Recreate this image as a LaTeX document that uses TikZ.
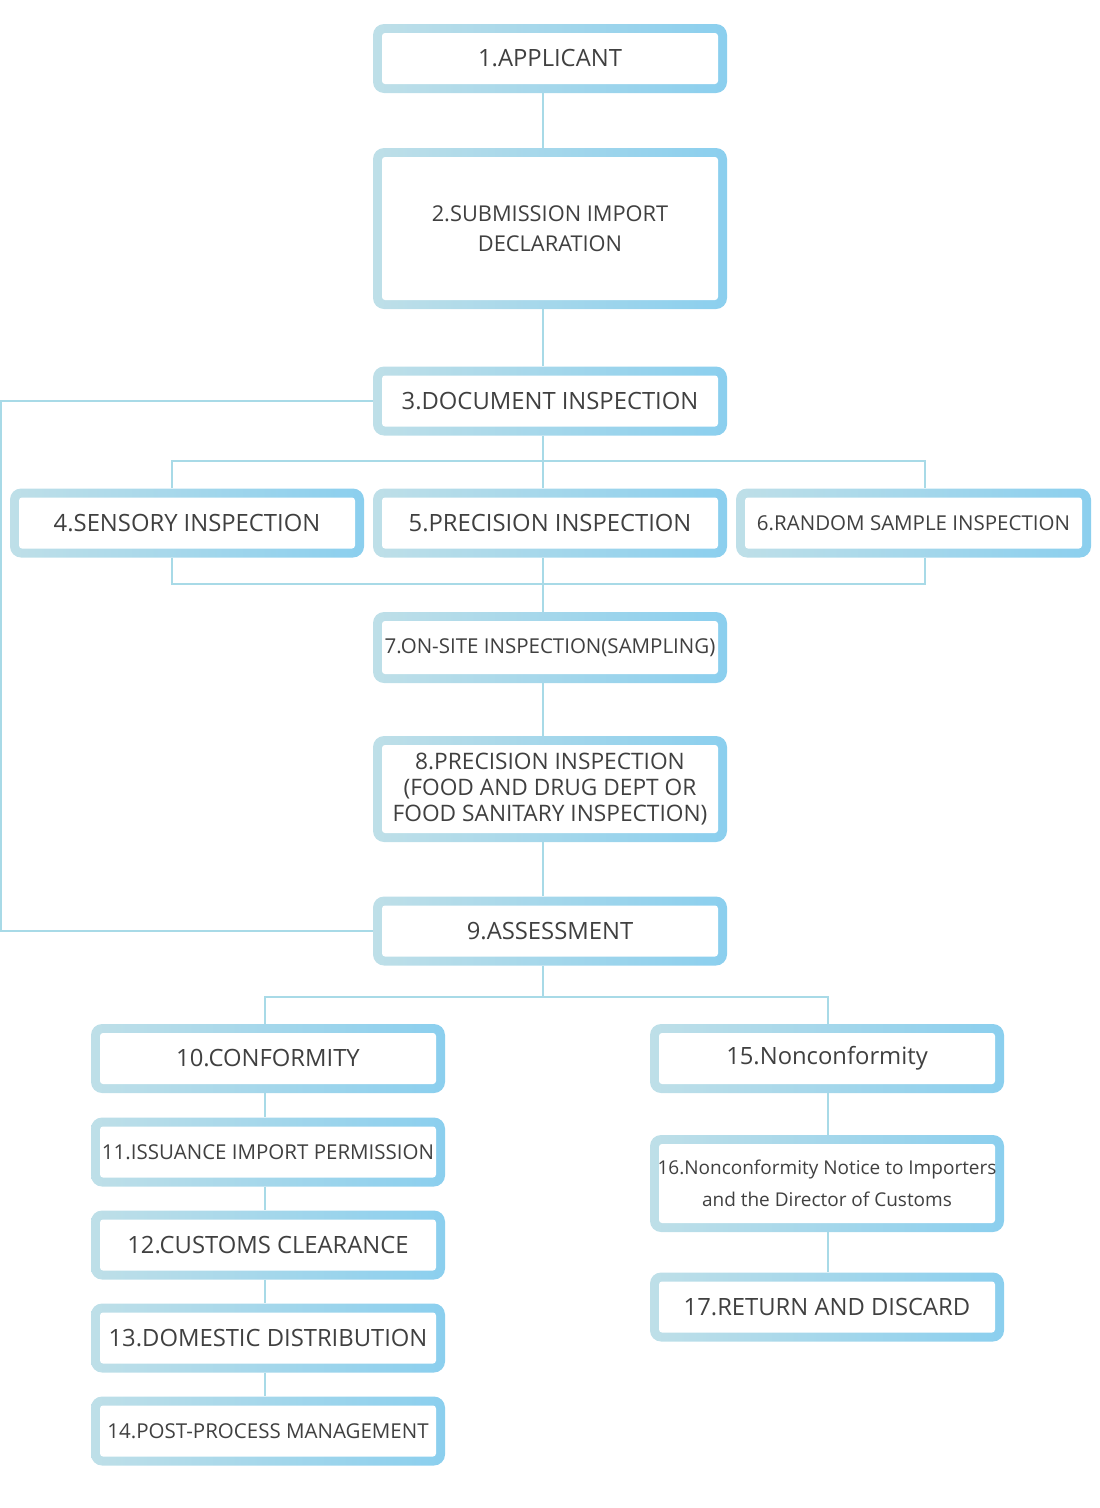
\documentclass[tikz,border=0pt]{standalone}
\usepackage{fontspec}
\setmainfont{Open Sans}
\definecolor{cL}{HTML}{BEDFE8}
\definecolor{cR}{HTML}{8BCFEE}
\definecolor{ln}{HTML}{A8DAE7}
\definecolor{txt}{HTML}{404040}
\tikzset{
  bx/.style={rounded corners=11pt, left color=cL, right color=cR, draw=none,
    minimum width=354pt, minimum height=69pt, inner sep=0pt, text=txt,
    font=\fontsize{23.8}{26}\selectfont, align=center,
    path picture={\fill[white, rounded corners=3pt]
      ([shift={(9pt,-9pt)}]path picture bounding box.north west) rectangle
      ([shift={(-9pt,9pt)}]path picture bounding box.south east);}},
  sm/.style={font=\fontsize{20.5}{23}\selectfont},
  conn/.style={draw=ln, line width=1.4pt},
}
\begin{document}
\begin{tikzpicture}[x=1pt,y=-1pt]
\useasboundingbox (0,0) rectangle (1100,1508);
% boxes
\node[bx] (b1) at (550,58.5) {1.APPLICANT};
\node[bx, minimum height=161pt, font=\fontsize{21.8}{30}\selectfont] (b2) at (550,228.5) {2.SUBMISSION IMPORT\\DECLARATION};
\node[bx] (b3) at (550,401) {3.DOCUMENT INSPECTION};
\node[bx] (b4) at (187,523) {4.SENSORY INSPECTION};
\node[bx] (b5) at (550,523) {5.PRECISION INSPECTION};
\node[bx, minimum width=355pt, sm] (b6) at (913.5,523) {6.RANDOM SAMPLE INSPECTION};
\node[bx, minimum height=71pt, sm] (b7) at (550,647.5) {7.ON-SITE INSPECTION(SAMPLING)};
\node[bx, minimum height=106pt, font=\fontsize{22.7}{26}\selectfont] (b8) at (550,789) {8.PRECISION INSPECTION\\(FOOD AND DRUG DEPT OR\\FOOD SANITARY INSPECTION)};
\node[bx] (b9) at (550,931) {9.ASSESSMENT};
\node[bx] (b10) at (268,1058.5) {10.CONFORMITY};
\node[bx, sm] (b11) at (268,1152) {11.ISSUANCE IMPORT PERMISSION};
\node[bx] (b12) at (268,1245) {12.CUSTOMS CLEARANCE};
\node[bx] (b13) at (268,1338) {13.DOMESTIC DISTRIBUTION};
\node[bx, sm] (b14) at (268,1431) {14.POST-PROCESS MANAGEMENT};
\node[bx] (b15) at (827,1058.5) {15.Nonconformity};
\node[bx, minimum height=97pt, font=\fontsize{19}{32}\selectfont] (b16) at (827,1183.5) {16.Nonconformity Notice to Importers\\and the Director of Customs};
\node[bx] (b17) at (827,1307) {17.RETURN AND DISCARD};
% helper coordinates
\coordinate (ax) at (543,0);
\coordinate (x4) at (172,461);
\coordinate (x6) at (925,461);
\coordinate (x4b) at (172,584);
\coordinate (x6b) at (925,584);
\coordinate (lp) at (1,0);
\coordinate (x10) at (265,997);
\coordinate (x15) at (828,997);
% connectors
\draw[conn] (b1.south -| ax) -- (b2.north -| ax);
\draw[conn] (b2.south -| ax) -- (b3.north -| ax);
\draw[conn] (b3.south -| ax) -- (b5.north -| ax);
\draw[conn] (x4 |- b4.north) -- (x4) -- (x6) -- (x6 |- b6.north);
\draw[conn] (x4b |- b4.south) -- (x4b) -- (x6b) -- (x6b |- b6.south);
\draw[conn] (b5.south -| ax) -- (b7.north -| ax);
\draw[conn] (b7.south -| ax) -- (b8.north -| ax);
\draw[conn] (b8.south -| ax) -- (b9.north -| ax);
\draw[conn] (b3.west) -- (b3.west -| lp) -- (b9.west -| lp) -- (b9.west);
\draw[conn] (b9.south -| ax) -- (ax |- x10);
\draw[conn] (x10 |- b10.north) -- (x10) -- (x15) -- (x15 |- b15.north);
\draw[conn] (b10.south -| x10) -- (b11.north -| x10);
\draw[conn] (b11.south -| x10) -- (b12.north -| x10);
\draw[conn] (b12.south -| x10) -- (b13.north -| x10);
\draw[conn] (b13.south -| x10) -- (b14.north -| x10);
\draw[conn] (b15.south -| x15) -- (b16.north -| x15);
\draw[conn] (b16.south -| x15) -- (b17.north -| x15);
\end{tikzpicture}
\end{document}
